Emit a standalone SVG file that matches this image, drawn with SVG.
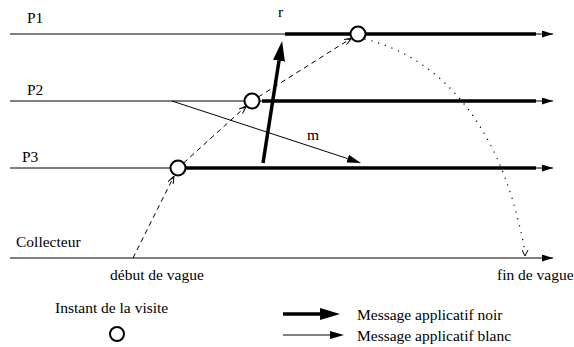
<svg xmlns="http://www.w3.org/2000/svg" width="574" height="347" viewBox="0 0 574 347" font-family="'Liberation Serif', serif" font-size="15.5">
<style>
text{font-family:'Liberation Serif','Times New Roman',serif;font-size:15.5px;fill:#000}
.thin{stroke:#000;stroke-width:1;fill:none}
.thick{stroke:#000;stroke-width:3.5;fill:none}
.dash{stroke:#000;stroke-width:1;fill:none;stroke-dasharray:5 4}
.dot{stroke:#000;stroke-width:1.3;fill:none;stroke-dasharray:0.1 7;stroke-linecap:round}
.visit{stroke:#000;stroke-width:2;fill:#fff}
</style>
<defs>
<marker id="ah" viewBox="0 0 11 7" refX="11" refY="3.5" markerWidth="11" markerHeight="7" markerUnits="userSpaceOnUse" orient="auto"><path d="M0,0 L11,3.5 L0,7 z" fill="#000"/></marker>
<marker id="big" viewBox="0 0 20 12" refX="0" refY="6" markerWidth="20" markerHeight="12" markerUnits="userSpaceOnUse" orient="auto"><path d="M0,0 L20,6 L0,12 z" fill="#000"/></marker>
<marker id="med" viewBox="0 0 14 8" refX="0" refY="4" markerWidth="14" markerHeight="8" markerUnits="userSpaceOnUse" orient="auto"><path d="M0,0 L14,4 L0,8 z" fill="#000"/></marker>
<marker id="open" viewBox="0 0 8 6" refX="8" refY="3" markerWidth="8" markerHeight="6" markerUnits="userSpaceOnUse" orient="auto"><path d="M0,0 L8,3 L0,6 M2,0.8 L6,3" stroke="#000" stroke-width="1" fill="none"/></marker>
<marker id="vee" viewBox="0 0 6 7" refX="6" refY="3.5" markerWidth="6" markerHeight="7" markerUnits="userSpaceOnUse" orient="auto"><path d="M0,0.5 L6,3.5 L0,6.5" stroke="#000" stroke-width="1" fill="none"/></marker>
</defs>

<g id="P1">
<text x="27" y="23">P1</text>
<line class="thin" x1="10" y1="34" x2="553" y2="34" marker-end="url(#ah)"/>
<line class="thick" x1="285" y1="34" x2="536" y2="34"/>
</g>
<g id="P2">
<text x="27" y="95">P2</text>
<line class="thin" x1="10" y1="101" x2="553" y2="101" marker-end="url(#ah)"/>
<line class="thick" x1="262" y1="101" x2="536" y2="101"/>
</g>
<g id="P3">
<text x="22" y="162">P3</text>
<line class="thin" x1="10" y1="168" x2="553" y2="168" marker-end="url(#ah)"/>
<line class="thick" x1="186" y1="168" x2="536" y2="168"/>
</g>
<g id="collecteur">
<text x="16" y="247">Collecteur</text>
<line class="thin" x1="10" y1="258" x2="553" y2="258" marker-end="url(#ah)"/>
<text x="110" y="280">début de vague</text>
<text x="497" y="280">fin de vague</text>
</g>

<g id="connectors">
<path class="dash" d="M133,258 L174,176" marker-end="url(#open)"/>
<path class="dash" d="M183.6,163 L246.4,106" marker-end="url(#open)"/>
<path class="dash" d="M258.3,97 L351.7,38" marker-end="url(#open)"/>
<path class="dot" d="M365,39 C430,55 500,112 525,252"/>
<path d="M525,248 L525,256" stroke="none" fill="none" marker-end="url(#vee)"/>
<line x1="263" y1="163" x2="279" y2="60.8" stroke="#000" stroke-width="3.5" marker-end="url(#big)"/>
<text x="278" y="17">r</text>
<line x1="172" y1="101" x2="347.7" y2="158.6" stroke="#000" stroke-width="1" marker-end="url(#med)"/>
<text x="307" y="140">m</text>
</g>

<g id="visit-P3"><circle class="visit" cx="178" cy="168" r="7.5"/></g>
<g id="visit-P2"><circle class="visit" cx="252" cy="101" r="7.5"/></g>
<g id="visit-P1"><circle class="visit" cx="358" cy="34" r="7.5"/></g>

<g id="legend">
<text x="55" y="313">Instant de la visite</text>
<circle class="visit" cx="117" cy="334" r="7"/>
<line x1="283" y1="314" x2="320" y2="314" stroke="#000" stroke-width="3.5" marker-end="url(#big)"/>
<text x="357" y="319.5">Message applicatif noir</text>
<line x1="283" y1="335" x2="330" y2="335" stroke="#000" stroke-width="1" marker-end="url(#med)"/>
<text x="357" y="341">Message applicatif blanc</text>
</g>
</svg>
